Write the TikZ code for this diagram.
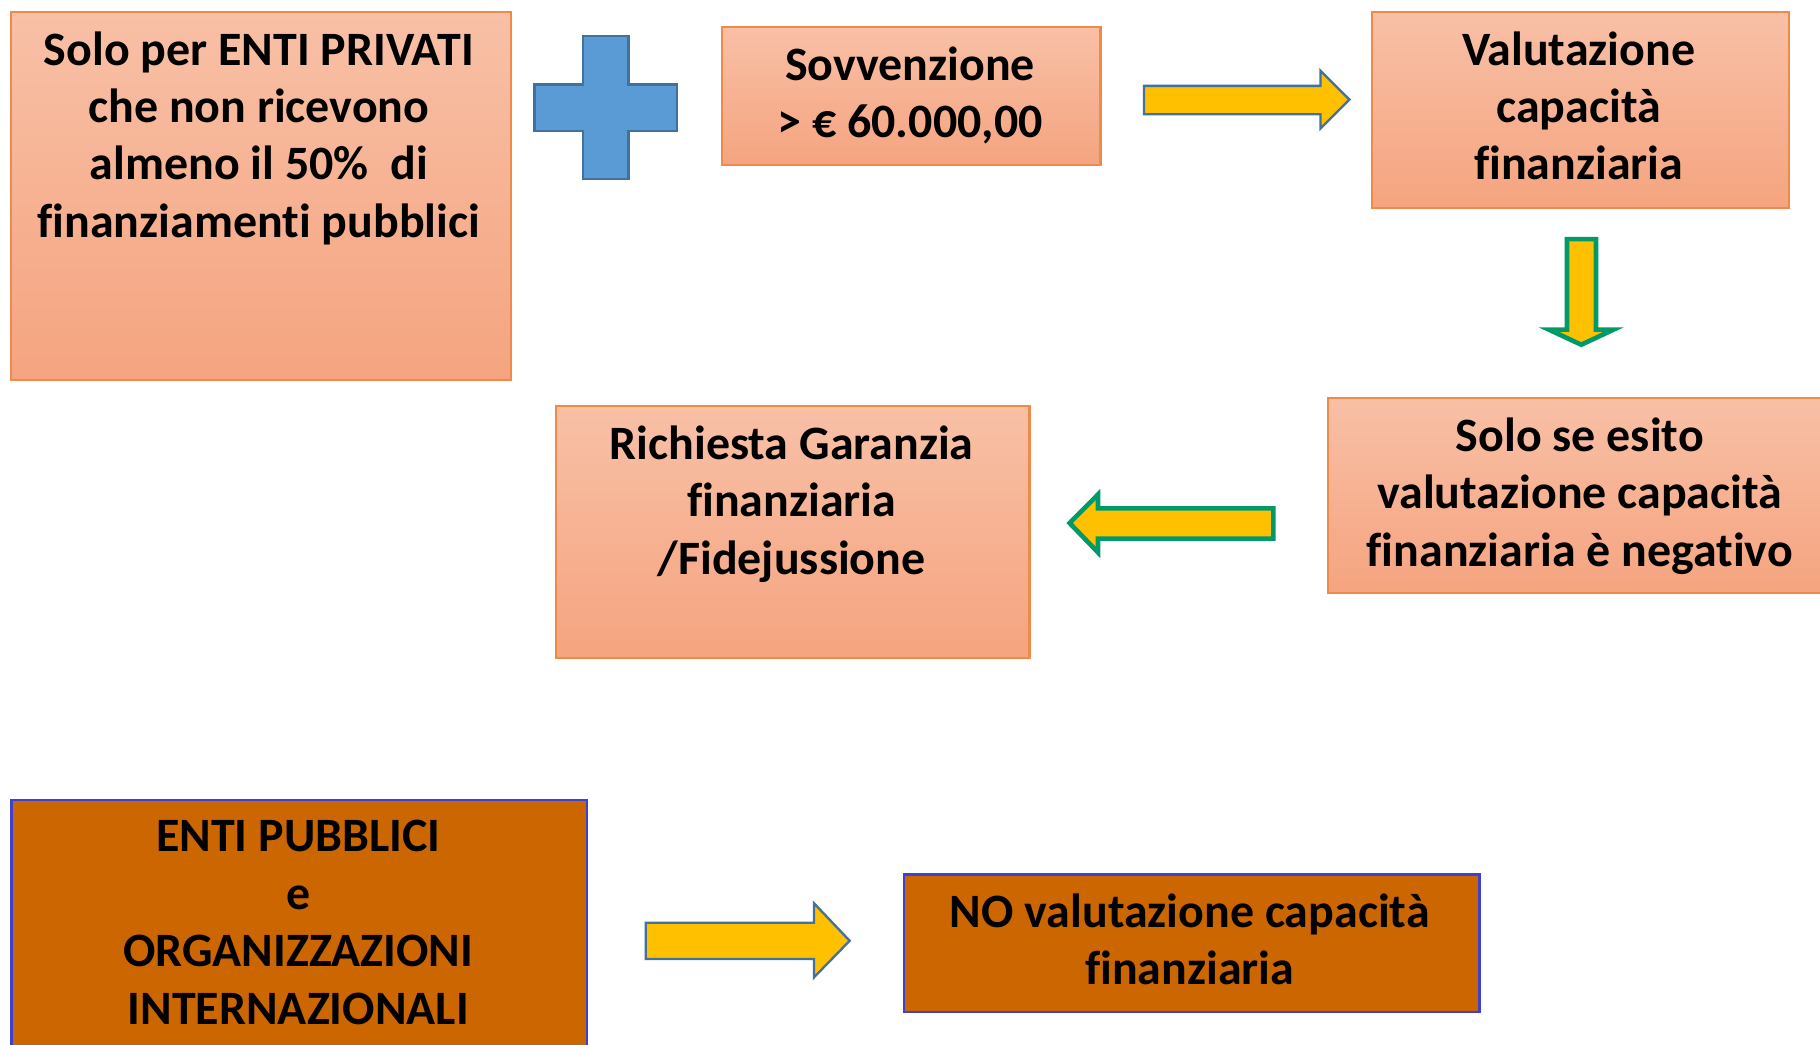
\documentclass[tikz,border=0pt]{standalone}
\usepackage{fontspec}
\setmainfont{Carlito}[Ligatures=NoCommon]
\definecolor{salmonT}{HTML}{F8C0A6}
\definecolor{salmonB}{HTML}{F5A47F}
\definecolor{boxline}{HTML}{F08A4B}
\definecolor{darkor}{HTML}{CC6600}
\definecolor{blueline}{HTML}{4040D0}
\definecolor{yell}{HTML}{FFC000}
\definecolor{arrblue}{HTML}{41719C}
\definecolor{arrgreen}{HTML}{009A6A}
\definecolor{plusfill}{HTML}{5B9BD5}
\begin{document}
\begin{tikzpicture}[x=1pt,y=-1pt,
  lbox/.style={draw=boxline, line width=2pt, top color=salmonT, bottom color=salmonB, anchor=north west, inner sep=0pt},
  dbox/.style={draw=blueline, line width=2pt, fill=darkor, anchor=north west, inner sep=0pt},
  txt/.style={font=\bfseries\fontsize{41.3}{49.5}\selectfont, align=flush center, text width=560pt, anchor=base, inner sep=0pt},
  barrow/.style={draw=arrblue, line width=2pt, fill=yell, line join=miter},
  garrow/.style={draw=arrgreen, line width=4pt, fill=yell, line join=miter},
  plusshape/.style={draw=arrblue, line width=2pt, fill=plusfill, line join=miter}]
\useasboundingbox (0,0) rectangle (1568,900);
\clip (0,0) rectangle (1568,900);
\fill[white] (0,0) rectangle (1568,900);
% boxes
\node[lbox, minimum width=431pt, minimum height=317pt] (A) at (8.5,9.5) {};
\node[lbox, minimum width=326pt, minimum height=119pt] (B) at (621,22.4) {};
\node[lbox, minimum width=359pt, minimum height=169pt] (C) at (1181,9.2) {};
\node[lbox, minimum width=440pt, minimum height=168pt] (D) at (1143,342) {};
\node[lbox, minimum width=408pt, minimum height=217pt] (E) at (478,349) {};
\node[dbox, minimum width=496pt, minimum height=240pt] (F) at (8.9,688) {};
\node[dbox, minimum width=496pt, minimum height=118.6pt] (G) at (777.6,752.4) {};
% texts
\node[txt] (tA) at (223,56) {Solo per ENTI PRIVATI\\che non ricevono\\almeno il 50\%~~di\\finanziamenti pubblici};
\node[txt] (tB) at (784,69) {Sovvenzione\\> € 60.000,00};
\node[txt] (tC) at (1360,56) {Valutazione\\capacità\\finanziaria};
\node[txt] (tD) at (1361,389) {Solo se esito\\valutazione capacità\\finanziaria è negativo};
\node[txt] (tE) at (682,395.7) {Richiesta Garanzia\\finanziaria\\/Fidejussione};
\node[txt] (tF) at (257,733.8) {ENTI PUBBLICI\\e\\ORGANIZZAZIONI\\INTERNAZIONALI};
\node[txt] (tG) at (1025,799) {NO valutazione capacità\\finanziaria};
% plus sign
\draw[plusshape] (502,31) -- (541.6,31) -- (541.6,72.7) -- (583.4,72.7) -- (583.4,112.9)
  -- (541.6,112.9) -- (541.6,154.5) -- (502,154.5) -- (502,112.9) -- (460.4,112.9)
  -- (460.4,72.7) -- (502,72.7) -- cycle;
% arrows
\draw[barrow] (985.6,74) -- (1137.7,74) -- (1137.7,61) -- (1162.6,85.8) -- (1137.7,110.6)
  -- (1137.7,98.5) -- (985.6,98.5) -- cycle;
\draw[garrow] (1350,206) -- (1375,206) -- (1375,284) -- (1390,284) -- (1362.3,297)
  -- (1334.5,284) -- (1350,284) -- cycle;
\draw[garrow] (1097,438) -- (946,438) -- (946,426) -- (921.5,450.6) -- (946,476)
  -- (946,464) -- (1097,464) -- cycle;
\draw[barrow] (556.4,795) -- (701.3,795) -- (701.3,778.2) -- (732,810.5) -- (701.3,842)
  -- (701.3,826.2) -- (556.4,826.2) -- cycle;
\end{tikzpicture}
\end{document}
